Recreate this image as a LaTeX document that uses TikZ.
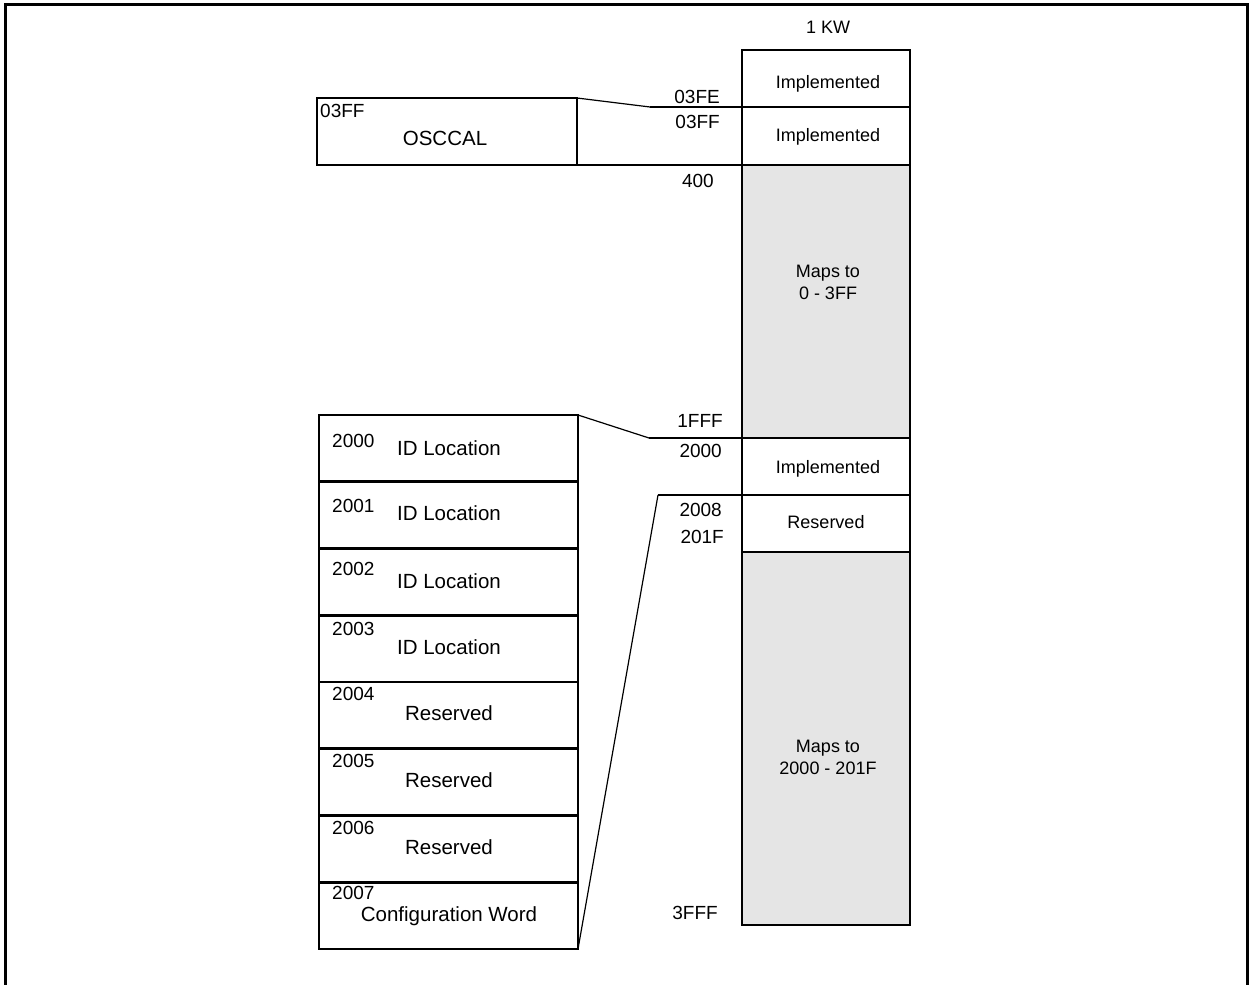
\documentclass[tikz,border=0pt]{standalone}
\usepackage{fontspec}
\setmainfont{Liberation Sans}
\usetikzlibrary{positioning}
\tikzset{
  frame/.style={line width=3pt},
  memline/.style={line width=2.8pt},
  link/.style={line width=1.2pt},
  membox/.style={draw,memline,anchor=north west,inner sep=0pt,outer sep=0pt,minimum width=168pt},
  stackbox/.style={draw,memline,anchor=north west,inner sep=0pt,outer sep=0pt,minimum width=260pt},
  grayfill/.style={fill=black!10},
  addr/.style={anchor=base east,inner sep=0pt,font=\fontsize{19}{22}\selectfont},
  cell/.style={anchor=base,inner sep=0pt,font=\fontsize{18}{22}\selectfont},
  num/.style={anchor=base west,inner sep=0pt,font=\fontsize{19}{22}\selectfont},
  lbl/.style={anchor=base,inner sep=0pt,font=\fontsize{20.5}{24}\selectfont}
}

\begin{document}
\begin{tikzpicture}[x=1pt,y=-1pt]
  \useasboundingbox (0,0) rectangle (1250,985);
  % outer frame, cut at the bottom
  \draw[frame] (5,995) -- (5,4) -- (1247,4) -- (1247,995);

  % program memory column
  \node[cell] (kw) at (828,33) {1 KW};
  \node[membox,minimum height=57pt] (r1) at (742,50) {};
  \node[membox,minimum height=58pt] (r2) at (742,107) {};
  \node[membox,grayfill,minimum height=273pt] (r3) at (742,165) {};
  \node[membox,minimum height=57pt] (r4) at (742,438) {};
  \node[membox,minimum height=57pt] (r5) at (742,495) {};
  \node[membox,grayfill,minimum height=373pt] (r6) at (742,552) {};

  \node[cell] (t1) at (828,88) {Implemented};
  \node[cell] (t2) at (828,141) {Implemented};
  \node[cell,align=center] (t3) at (828,299) {Maps to\\0 - 3FF};
  \node[cell] (t4) at (828,473) {Implemented};
  \node[cell] (t5) at (826,528) {Reserved};
  \node[cell,align=center] (t6) at (828,774) {Maps to\\2000 - 201F};

  % addresses
  \node[addr] (a1) at (720,103) {03FE};
  \node[addr] (a2) at (720,128) {03FF};
  \node[addr] (a3) at (714,187) {400};
  \node[addr] (a4) at (723,427) {1FFF};
  \node[addr] (a5) at (722,457) {2000};
  \node[addr] (a6) at (722,516) {2008};
  \node[addr] (a7) at (724,543) {201F};
  \node[addr] (a8) at (718,919) {3FFF};

  % OSCCAL location
  \node[stackbox,minimum height=67pt] (osc) at (317,98) {};
  \node[num] (on) at (320,117) {03FF};
  \node[lbl] (ol) at (445,145) {OSCCAL};
  \coordinate (k1) at (650,107);
  \draw[link] (osc.north east) -- (k1);
  \draw[memline] (k1) -- (r2.north west);
  \draw[memline] (osc.south east) -- (r3.north west);

  % configuration memory
  \foreach \i/\ad/\txt/\nb/\tb in {
      0/2000/ID Location/447/455,
      1/2001/ID Location/512/520,
      2/2002/ID Location/575/588,
      3/2003/ID Location/635/654,
      4/2004/Reserved/700/720,
      5/2005/Reserved/767/787,
      6/2006/Reserved/834/854,
      7/2007/Configuration Word/899/921}{
    \node[stackbox,minimum width=259pt,minimum height=66.75pt] (s\i) at (319,415+66.75*\i) {};
    \node[num] (n\i) at (332,\nb) {\ad};
    \node[lbl] (l\i) at (449,\tb) {\txt};
  }
  \coordinate (k2) at (649,438);
  \coordinate (k3) at (658,495);
  \draw[link] (s0.north east) -- (k2);
  \draw[memline] (k2) -- (r4.north west);
  \draw[link] (s7.south east) -- (k3);
  \draw[memline] (k3) -- (r5.north west);
\end{tikzpicture}
\end{document}
